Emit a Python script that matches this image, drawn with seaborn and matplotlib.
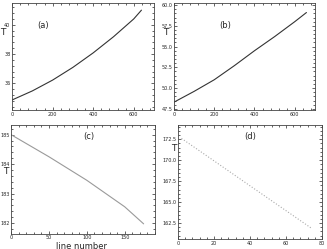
import numpy as np
import pandas as pd
import matplotlib
matplotlib.use("Agg")
import matplotlib.pyplot as plt
from matplotlib.ticker import AutoMinorLocator, MultipleLocator
import seaborn as sns

# values
a_x = [0, 100, 200, 300, 400, 500, 600, 638]
a_T = [34.86, 35.48, 36.22, 37.09, 38.08, 39.18, 40.40, 41.0]

b_x = [0, 100, 200, 300, 400, 500, 600, 658]
b_T = [48.3, 49.6, 51.0, 52.7, 54.5, 56.2, 58.0, 59.1]

c_x = [0, 50, 100, 150, 175]
c_T = [185.0, 184.25, 183.45, 182.55, 181.97]

d_x = [2, 20, 40, 60, 74]
d_T = [172.6, 169.93, 166.95, 163.98, 161.9]

sns.set_style("ticks")
plt.rcParams["font.family"] = ["DejaVu Sans"]

fig = plt.figure(figsize=(3.27, 2.49), dpi=100)

panels = [
    # x, y, label, rect, xlim, ylim, xstep, ystep, color, style, label pos, T pos
    (a_x, a_T, "(a)", [0.037, 0.558, 0.434, 0.430], (0, 700), (34.17, 41.49), 200, 2,
     "#333333", "-", (0.22, 0.79), (-0.068, 0.72)),
    (b_x, b_T, "(b)", [0.532, 0.558, 0.431, 0.430], (0, 700), (47.35, 60.25), 200, 2.5,
     "#333333", "-", (0.36, 0.79), (-0.06, 0.72)),
    (c_x, c_T, "(c)", [0.034, 0.062, 0.440, 0.436], (0, 190), (181.64, 185.33), 50, 1,
     "#9a9a9a", "-", (0.54, 0.89), (-0.035, 0.57)),
    (d_x, d_T, "(d)", [0.544, 0.040, 0.441, 0.458], (0, 80), (160.6, 174.2), 20, 2.5,
     "#aaaaaa", ":", (0.50, 0.90), (-0.03, 0.79)),
]

for x, y, lab, rect, xlim, ylim, xs, ys, col, ls, lpos, tpos in panels:
    ax = fig.add_axes(rect)
    df = pd.DataFrame({"x": x, "T": y})
    sns.lineplot(data=df, x="x", y="T", ax=ax, color=col, linestyle=ls, linewidth=0.8)
    ax.set_xlim(*xlim)
    ax.set_ylim(*ylim)
    ax.xaxis.set_major_locator(MultipleLocator(xs))
    ax.yaxis.set_major_locator(MultipleLocator(ys))
    ax.xaxis.set_minor_locator(AutoMinorLocator(5))
    ax.yaxis.set_minor_locator(AutoMinorLocator(5))
    ax.tick_params(which="both", direction="in", top=True, right=True,
                   labelsize=3.5, width=0.5, pad=1.2)
    ax.tick_params(which="major", length=2.5)
    ax.tick_params(which="minor", length=1.3)
    if ys == 2.5:
        ax.yaxis.set_major_formatter(plt.FormatStrFormatter("%.1f"))
    for s in ax.spines.values():
        s.set_linewidth(0.6)
        s.set_color("#444444")
    ax.set_xlabel("")
    ax.set_ylabel("")
    ax.text(lpos[0], lpos[1], lab, transform=ax.transAxes, fontsize=6,
            ha="center", va="center")
    ax.text(tpos[0], tpos[1], "T", transform=ax.transAxes, fontsize=6.5,
            ha="center", va="center")
    if lab == "(c)":
        ax.text(0.49, -0.115, "line number", transform=ax.transAxes, fontsize=6,
                ha="center", va="center")

fig.savefig("out.png", dpi=100)
